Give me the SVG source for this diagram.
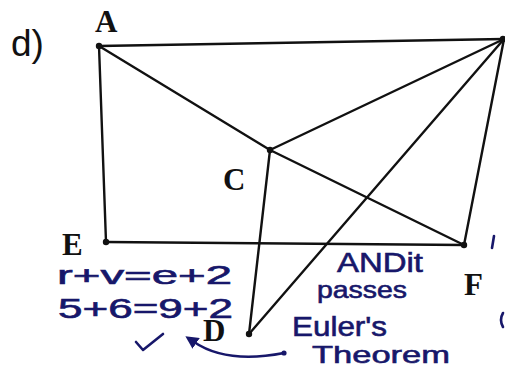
<svg xmlns="http://www.w3.org/2000/svg" width="505" height="367" viewBox="0 0 505 367">
<style>
.edge{stroke:#111;stroke-width:2.4;fill:none;stroke-linecap:round}
.dot{fill:#111}
.lbl{font-family:"Liberation Serif",serif;font-weight:bold;font-size:31px;fill:#111}
.hw{font-family:"Liberation Sans",sans-serif;fill:#17176a;stroke:#17176a;stroke-width:0.6}
.ink{stroke:#17176a;fill:none;stroke-width:2.6;stroke-linecap:round;stroke-linejoin:round}
</style>
<defs>
<marker id="ah" viewBox="0 0 10 10" refX="2" refY="5" markerWidth="5" markerHeight="5" orient="auto-start-reverse">
<path d="M0,0 L10,5 L0,10 Z" fill="#17176a"/>
</marker>
</defs>
<rect width="505" height="367" fill="#fff"/>
<text x="11" y="56" font-family="Liberation Sans,sans-serif" font-size="37" fill="#111">d)</text>
<g id="connectors">
<line class="edge" x1="99" y1="46" x2="504" y2="39"/>
<line class="edge" x1="99" y1="46" x2="106" y2="242"/>
<line class="edge" x1="106" y1="242" x2="464" y2="245"/>
<line class="edge" x1="99" y1="46" x2="270" y2="150"/>
<line class="edge" x1="270" y1="150" x2="464" y2="245"/>
<line class="edge" x1="270" y1="150" x2="504" y2="39"/>
<line class="edge" x1="270" y1="150" x2="249" y2="334"/>
<line class="edge" x1="249" y1="334" x2="504" y2="39"/>
<line class="edge" x1="464" y1="245" x2="504" y2="39"/>
</g>
<g id="node-A"><circle class="dot" cx="99" cy="46" r="3.2"/><text class="lbl" x="95" y="32">A</text></g>
<g id="node-B"><circle class="dot" cx="503" cy="39" r="3.2"/></g>
<g id="node-C"><circle class="dot" cx="270" cy="150" r="3.2"/><text class="lbl" x="223" y="190">C</text></g>
<g id="node-E"><circle class="dot" cx="106" cy="242" r="3.2"/><text class="lbl" x="62" y="255">E</text></g>
<g id="node-F"><circle class="dot" cx="464" cy="245" r="3.2"/><text class="lbl" x="464" y="295">F</text></g>
<g id="node-D"><circle class="dot" cx="249" cy="334" r="3.2"/><text class="lbl" x="203" y="341">D</text></g>
<g id="notes">
<text class="hw" x="57" y="284" font-size="26" textLength="175" lengthAdjust="spacingAndGlyphs">r+v=e+2</text>
<text class="hw" x="58" y="318" font-size="27" textLength="175" lengthAdjust="spacingAndGlyphs">5+6=9+2</text>
<text class="hw" x="337" y="272" font-size="27" textLength="86" lengthAdjust="spacingAndGlyphs">ANDit</text>
<text class="hw" x="317" y="298" font-size="24" textLength="90" lengthAdjust="spacingAndGlyphs">passes</text>
<text class="hw" x="292" y="336" font-size="27" textLength="95" lengthAdjust="spacingAndGlyphs">Euler's</text>
<text class="hw" x="312" y="363" font-size="24" textLength="138" lengthAdjust="spacingAndGlyphs">Theorem</text>
<path class="ink" d="M136,342 L143,350 L163,334"/>
<path class="ink" d="M284,353 C258,358 222,361 194,342" marker-end="url(#ah)"/>
<circle cx="284" cy="353" r="2.6" fill="#17176a"/>
<path class="ink" d="M494,236 L492,248"/>
<path class="ink" d="M503,313 Q499,320 503,327"/>
</g>
</svg>
